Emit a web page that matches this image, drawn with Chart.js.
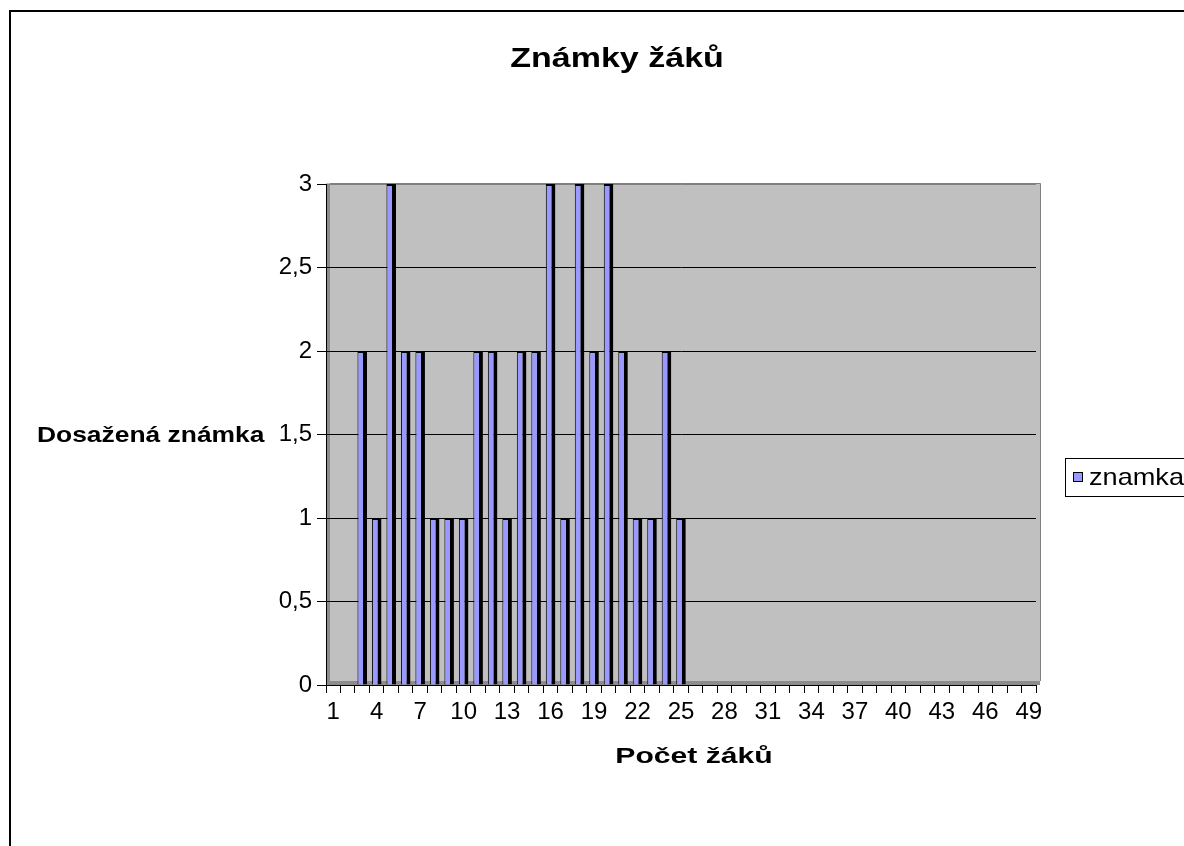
<!DOCTYPE html>
<html>
<head>
<meta charset="utf-8">
<script src="https://cdn.jsdelivr.net/npm/chart.js@4/dist/chart.umd.min.js"></script>
<style>
html,body{margin:0;padding:0;background:#fff;}
#wrap{width:1184px;height:846px;position:relative;}
</style>
</head>
<body>
<div id="wrap"><canvas id="c" width="1184" height="846"></canvas></div>
<script>
const chartTitle = 'Známky žáků';
const yAxisTitle = 'Dosažená známka';
const xAxisTitle = 'Počet žáků';
const seriesName = 'znamka';
const categories = ['1','2','3','4','5','6','7','8','9','10','11','12','13','14','15','16','17','18','19','20','21','22','23','24','25','26','27','28','29','30','31','32','33','34','35','36','37','38','39','40','41','42','43','44','45','46','47','48','49'];
const znamka = [null,null,2,1,3,2,2,1,1,1,2,2,1,2,2,3,1,3,2,3,2,1,1,2,1,null,null,null,null,null,null,null,null,null,null,null,null,null,null,null,null,null,null,null,null,null,null,null,null];
const shownXLabels = ['1','4','7','10','13','16','19','22','25','28','31','34','37','40','43','46','49'];
const yMin = 0, yMax = 3, yStep = 0.5;

const FONT = '"Liberation Sans", Arial, sans-serif';

function drawText(ctx, text, x, y, font, align, sx) {
  ctx.save();
  ctx.font = font;
  ctx.fillStyle = '#000';
  ctx.textBaseline = 'middle';
  ctx.textAlign = align;
  ctx.translate(x, y);
  ctx.scale(sx, 1);
  ctx.fillText(text, 0, 0);
  ctx.restore();
}

const decor = {
  id: 'decor',
  beforeDraw(chart) {
    const {ctx, chartArea: a} = chart;
    ctx.save();
    ctx.fillStyle = '#fff';
    ctx.fillRect(0, 0, chart.width, chart.height);
    ctx.fillStyle = '#c0c0c0';
    ctx.fillRect(a.left, a.top - 1, a.right - a.left + 4, a.bottom - a.top + 1);
    ctx.fillStyle = '#8c8c8c';
    ctx.fillRect(a.left, a.top, 4, a.bottom - a.top);
    ctx.fillRect(a.left, a.bottom - 4, a.right - a.left + 4, 4);
    ctx.strokeStyle = '#808080';
    ctx.lineWidth = 1;
    ctx.beginPath();
    ctx.moveTo(a.left + 4, a.top - 0.5);
    ctx.lineTo(a.right + 4.5, a.top - 0.5);
    ctx.lineTo(a.right + 4.5, a.bottom - 4);
    ctx.stroke();
    ctx.restore();
  },
  afterDraw(chart) {
    const {ctx} = chart;
    ctx.save();
    ctx.strokeStyle = '#000';
    ctx.lineWidth = 2;
    ctx.strokeRect(10, 11, 1300, 1000);
    ctx.restore();
    drawText(ctx, chartTitle, 617, 60, 'bold 27px ' + FONT, 'center', 1.26);
    drawText(ctx, yAxisTitle, 37, 436, 'bold 22px ' + FONT, 'left', 1.2);
    drawText(ctx, xAxisTitle, 694, 757, 'bold 22px ' + FONT, 'center', 1.37);
    ctx.save();
    ctx.fillStyle = '#fff';
    ctx.strokeStyle = '#000';
    ctx.lineWidth = 1;
    ctx.fillRect(1065.5, 458.5, 140, 38);
    ctx.strokeRect(1065.5, 458.5, 140, 38);
    ctx.fillStyle = '#9999ff';
    ctx.fillRect(1073.5, 472.5, 9, 9);
    ctx.strokeRect(1073.5, 472.5, 9, 9);
    ctx.restore();
    drawText(ctx, seriesName, 1089, 478, '24px ' + FONT, 'left', 1.13);
  }
};

new Chart(document.getElementById('c'), {
  type: 'bar',
  data: {
    labels: categories,
    datasets: [{
      label: seriesName,
      data: znamka,
      backgroundColor: '#9999ff',
      borderColor: '#000',
      borderWidth: {left: 1, right: 4, top: 2, bottom: 0},
      barPercentage: 0.66,
      categoryPercentage: 1.0
    }]
  },
  options: {
    responsive: false,
    animation: false,
    layout: {padding: {left: 0, right: 148, top: 184, bottom: 0}},
    plugins: {legend: {display: false}, title: {display: false}, tooltip: {enabled: false}},
    scales: {
      x: {
        offset: true,
        grid: {offset: true, drawOnChartArea: false, drawTicks: true, tickLength: 8, color: '#000', tickColor: '#000'},
        border: {display: true, color: '#000', width: 1},
        ticks: {
          autoSkip: false, maxRotation: 0, minRotation: 0, padding: 5,
          color: '#000', font: {family: FONT, size: 24},
          callback: function(v, i) { const l = categories[i]; return shownXLabels.includes(l) ? l : ''; }
        },
        afterFit: s => { s.height = 161; }
      },
      y: {
        min: yMin, max: yMax,
        grid: {color: ctx => (ctx.tick && ctx.tick.value === yMax) ? '#808080' : '#000', tickColor: '#000', tickLength: 9, drawTicks: true},
        border: {display: true, color: '#000', width: 1},
        ticks: {
          stepSize: yStep, padding: 5, color: '#000', font: {family: FONT, size: 24},
          callback: v => String(v).replace('.', ',')
        },
        afterFit: s => { s.width = 326; }
      }
    }
  },
  plugins: [decor]
});
</script>
</body>
</html>
